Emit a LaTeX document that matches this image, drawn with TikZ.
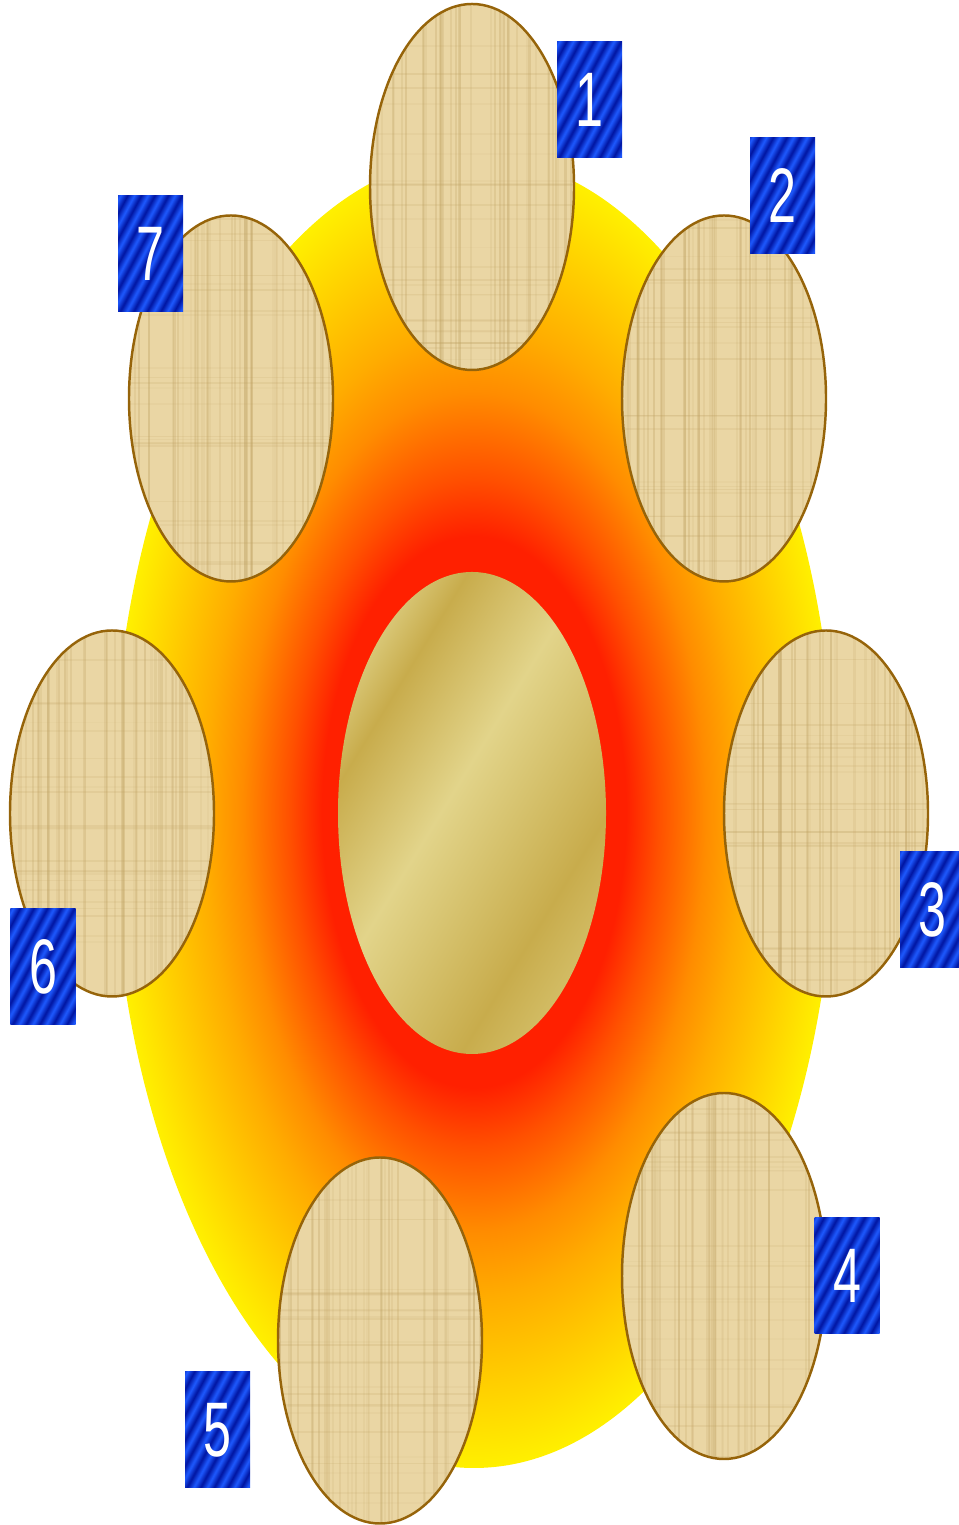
\documentclass[tikz,border=0pt]{standalone}
\usepackage{fontspec}
\newfontfamily\numfont[FakeStretch=0.65]{Liberation Sans}
\usetikzlibrary{shapes.geometric}

\definecolor{papyrus}{RGB}{234,214,164}
\definecolor{papyrusdark}{RGB}{190,160,96}
\definecolor{papyrusedge}{RGB}{150,100,10}
\definecolor{glowred}{RGB}{255,32,0}
\definecolor{glowredorange}{RGB}{255,80,0}
\definecolor{gloworange}{RGB}{255,140,0}
\definecolor{glowamber}{RGB}{255,172,0}
\definecolor{glowyellow}{RGB}{255,240,0}
\definecolor{goldtop}{RGB}{216,198,117}
\definecolor{golddark}{RGB}{200,172,76}
\definecolor{goldlight}{RGB}{226,212,138}
\definecolor{goldmid}{RGB}{210,188,100}
\definecolor{stripedark}{RGB}{0,20,160}
\definecolor{stripelight}{RGB}{30,90,255}

% glow behind the ring of leaves
\pgfdeclareradialshading{sunglow}{\pgfpointorigin}{%
  color(0bp)=(glowred); color(10.5bp)=(glowred); color(12.75bp)=(glowredorange);
  color(16bp)=(gloworange); color(18.5bp)=(glowamber); color(25bp)=(glowyellow);
  color(50bp)=(glowyellow)}

% gold bands of the middle egg
\pgfdeclarehorizontalshading{goldbands}{5cm}{%
  color(0cm)=(goldtop); color(0.3cm)=(goldtop); color(0.71cm)=(golddark);
  color(1.73cm)=(goldlight); color(2.6cm)=(goldmid); color(3.16cm)=(golddark);
  color(3.7cm)=(goldmid); color(4cm)=(goldmid)}

% blue stripes of the number boxes
\def\stripestops{color(0cm)=(stripedark)}
\foreach \k in {1,...,14}{%
  \pgfmathsetmacro\half{(\k-0.5)*0.12}%
  \pgfmathsetmacro\full{\k*0.12}%
  \xdef\stripestops{\stripestops; color(\half cm)=(stripelight); color(\full cm)=(stripedark)}}
\edef\makestripes{\noexpand\pgfdeclarehorizontalshading{bluestripes}{2cm}{\stripestops}}
\makestripes

\tikzset{
  glowegg/.style={ellipse, inner sep=0pt, minimum width=7.24cm, minimum height=13.12cm,
    shade, shading=sunglow},
  goldegg/.style={ellipse, inner sep=0pt, minimum width=2.68cm, minimum height=4.82cm,
    path picture={\node[inner sep=0pt, rotate=-31.5] at (path picture bounding box.center)
      {\pgfuseshading{goldbands}};}},
  leaf/.style={ellipse, draw=papyrusedge, line width=0.7pt, fill=papyrus, inner sep=0pt,
    minimum width=2.04cm, minimum height=3.66cm,
    path picture={
      \foreach \k in {1,...,40}{
        \pgfmathsetmacro\xo{rnd*2.04}
        \pgfmathsetmacro\op{0.08+0.22*rnd}
        \draw[papyrusdark, opacity=\op, line width=0.6pt]
          ([xshift=\xo cm]path picture bounding box.south west) -- ++(0,3.66);}
      \foreach \k in {1,...,25}{
        \pgfmathsetmacro\yo{rnd*3.66}
        \pgfmathsetmacro\op{0.05+0.15*rnd}
        \draw[papyrusdark, opacity=\op, line width=0.5pt]
          ([yshift=\yo cm]path picture bounding box.south west) -- ++(2.04,0);}}},
  numbox/.style={rectangle, inner sep=0pt, minimum width=0.65cm, minimum height=1.16cm,
    text=white, font=\numfont\fontsize{22}{22}\selectfont,
    path picture={\node[inner sep=0pt, rotate=-28] at (path picture bounding box.center)
      {\pgfuseshading{bluestripes}};}}
}

\begin{document}
\begin{tikzpicture}
  \pgfmathsetseed{7}
  \useasboundingbox (0,0) rectangle (9.59,15.25);
  % Glow and middle egg
  \node[glowegg] (glow) at (4.74,7.13) {};
  \node[goldegg] (core) at (4.72,7.12) {};
  % Leaves round the middle
  \foreach \n/\x/\y in {1/4.72/13.38, 2/7.24/11.265, 3/8.26/7.115, 4/7.24/2.49,
                        5/3.80/1.845, 6/1.12/7.115, 7/2.31/11.265} {
    \node[leaf] (leaf\n) at (\x,\y) {};
  }
  % Numbers
  \foreach \n/\x/\y in {1/5.895/14.25, 2/7.825/13.29, 3/9.325/6.15, 4/8.47/2.49,
                        5/2.175/0.95, 6/0.43/5.58, 7/1.505/12.71} {
    \node[numbox] (num\n) at (\x,\y) {\n};
  }
\end{tikzpicture}
\end{document}
